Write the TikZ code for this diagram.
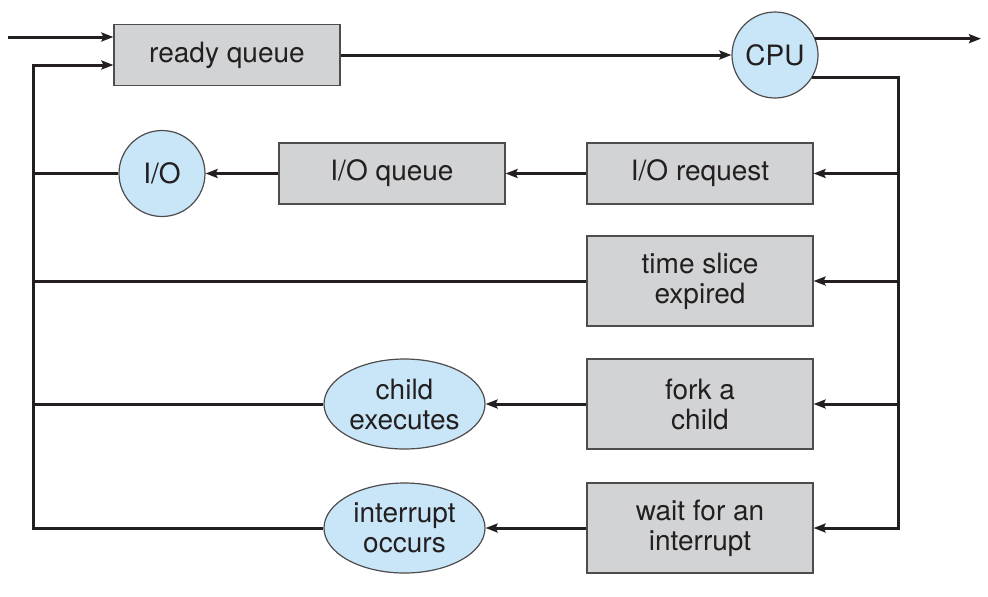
\documentclass[tikz,border=0pt]{standalone}
\usepackage{fontspec}
\setmainfont{TeX Gyre Heros}
\usetikzlibrary{shapes,arrows,calc,arrows.meta}
\usetikzlibrary{positioning}
\definecolor{boxgray}{HTML}{D1D3D4}
\definecolor{cpublue}{HTML}{C8E6F8}
\definecolor{ink}{HTML}{231F20}

\begin{document}
\begin{tikzpicture}[x=0.5pt,y=-0.5pt,
        queue/.style={draw=ink!80,line width=0.6pt,fill=boxgray,minimum width=113pt,minimum height=30.5pt,inner sep=0pt,align=center,text=ink},
        event/.style={queue,minimum height=45pt},
        device/.style={circle,draw=ink!80,line width=0.6pt,fill=cpublue,minimum size=43pt,inner sep=0pt,text=ink},
        result/.style={ellipse,draw=ink!80,line width=0.6pt,fill=cpublue,minimum width=80.5pt,minimum height=45pt,inner sep=0pt,align=center,text=ink},
        link/.style={ink,line width=1.5pt},
        >={Stealth[length=6pt,width=4.5pt,inset=1pt]},
        font=\fontsize{14}{15}\selectfont]
            \useasboundingbox (0,0) rectangle (988,596);
            \draw (227,55) node[queue] (rq) {ready queue};
            \draw (775,55) node[device] (cpu) {CPU};
            \draw (700,173.5) node[queue] (ioreq) {I/O request};
            \draw (392,173.5) node[queue] (ioq) {I/O queue};
            \draw (162,173.5) node[device] (io) {I/O};
            \draw (700,281) node[event] (slice) {time slice\\expired};
            \draw (700,404) node[event] (fork) {fork a\\child};
            \draw (404.5,404) node[result] (child) {child\\executes};
            \draw (700,528) node[event] (wait) {wait for an\\interrupt};
            \draw (404.5,528) node[result] (intr) {interrupt\\occurs};
            \coordinate (entry) at (8,37);
            \coordinate (exit) at (981,39);
            \coordinate (rbus) at (898,77);
            \coordinate (lbus) at (33,65);
            \path[link,->]
            (entry) edge (entry -| rq.west)
            (rq) edge (cpu)
            (ioreq) edge (ioq)
            (ioq) edge (io)
            (fork) edge (child)
            (wait) edge (intr);
            \draw[link,->] (cpu.22) -- (cpu.22 -| exit);
            \draw[link,->] (cpu.-31) -| (rbus |- wait.east) -- (wait.east);
            \foreach \n in {ioreq,slice,fork}
                \draw[link,->] (rbus |- \n.east) -- (\n.east);
            \draw[link,->] (intr.west) -| (lbus) -- (lbus -| rq.west);
            \foreach \n in {io,slice,child}
                \draw[link] (\n.west) -- (\n.west -| lbus);
        \end{tikzpicture}
\end{document}
